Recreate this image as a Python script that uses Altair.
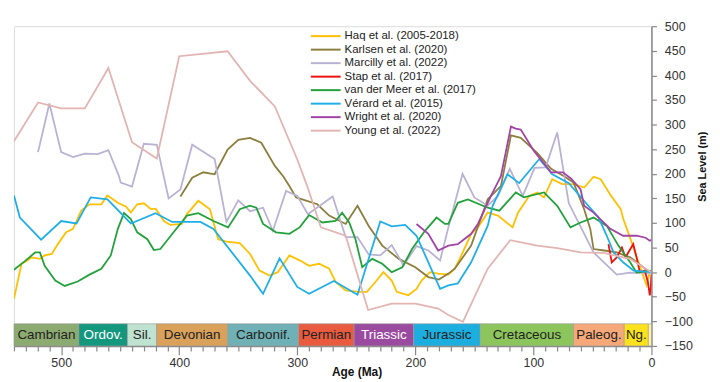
import altair as alt
import pandas as pd

# ---------------- data ----------------
series_names = ["Haq et al. (2005-2018)", "Karlsen et al. (2020)", "Marcilly et al. (2022)",
                "Stap et al. (2017)", "van der Meer et al. (2017)", "Vérard et al. (2015)",
                "Wright et al. (2020)", "Young et al. (2022)"]
series_colors = ["#FFC000", "#8C7E3C", "#B9B2D3", "#EE1111", "#22A13C", "#1FAFE8", "#A144A6", "#E2B4B2"]

haq_age = [540, 533.6, 531, 525, 518, 514, 508, 502.8, 495.8, 490, 483, 476, 466, 460.8, 452, 445, 441,
           435.6, 430, 424, 420, 413, 407.6, 397.7, 393.5, 383.8, 374, 367, 360, 348.7, 340, 332, 323.5,
           316.5, 306.7, 298, 290, 281.5, 273, 267.5, 259, 248, 241, 233.8, 227, 220, 215.7, 206, 199,
           194.7, 187.6, 180.7, 172, 166.6, 161, 152.7, 147, 138.7, 130, 117.6, 113, 103.6, 96.6, 91, 84,
           75.6, 65.8, 57, 49, 43, 35, 26, 23.8, 16.8, 11, 7, 4, 1.4, 0]
haq_sl = [-54, 17, 20, 30, 27, 34, 37, 57, 81, 88, 125, 138, 138, 156, 141, 133, 121,
          138, 140, 128, 129, 104, 96, 98, 118, 145, 128, 67, 62, 59, 37, 3, -7,
          0, 34, 24, 13, 17, 7, -20, -37, -40, -40, -20, 0, -17, -40, -47, -34,
          -17, 0, -3, -5, 7, 34, 78, 91, 121, 115, 91, 121, 155, 162, 152, 189,
          179, 179, 172, 194, 189, 158, 128, 108, 61, 20, -7, -27, 0, 0]

karlsen_age = [399, 389, 379.6, 370, 359, 350, 340, 330.5, 319, 312, 306.7, 301, 283, 273, 259, 249,
               239.5, 228, 214, 200, 189, 180, 172, 166.6, 152.7, 138.7, 127.5, 119, 110.7, 96.6, 85,
               74, 66, 57, 51.8, 49, 40, 29.4, 18, 1.4, 0]
karlsen_sl = [154, 192, 203, 199, 249, 269, 273, 263, 216, 195, 175, 152, 138, 115, 98, 135,
              94, 54, 27, 10, -10, -15, -3, 7, 54, 148, 175, 278, 273, 242, 210,
              195, 182, 128, 88, 47, 44, 40, 30, 0, 0]

marcilly_age = [519.6, 510, 500, 490, 480, 469, 460, 451, 449.6, 440, 430, 419, 409, 399, 389, 370, 360,
                350, 340, 329, 320.7, 309.5, 300, 291, 270, 259, 249, 239.5, 229.7, 220, 210, 199, 189,
                179, 172, 160, 150, 138.7, 130, 120, 109, 99, 89.6, 79.8, 70, 49, 29.4, 18, 0]
marcilly_sl = [244, 343, 244, 234, 241, 240, 248, 195, 182, 174, 261, 259, 150, 168, 259, 230, 102,
               146, 124, 131, 84, 165, 155, 118, 154, 71, 71, 36, 34, 55, 14, 53, 44,
               24, 91, 200, 152, 135, 155, 210, 155, 212, 213, 284, 140, 40, -5, -1, -2]

stap_age = [36.4, 33.6, 29.4, 25, 22, 19.6, 15.4, 12.6, 9.8, 5.6, 3, 1.4, 0.5, 0]
stap_sl = [57, 20, 30, 50, 30, 40, 57, 30, 0, 3, -20, -47, -30, -5]

meer_age = [540, 531, 522, 518, 514, 505, 497, 486, 476, 466, 458, 452, 446.8, 441, 435.6, 427, 421.5,
            416, 404.8, 393.5, 383.8, 371, 358.6, 348.7, 340, 334.7, 329, 318, 306.7, 298, 290, 278.7,
            267.5, 262, 256, 250.7, 245, 236.5, 228, 220, 211, 202.8, 191.8, 182, 175, 172, 164, 155.5,
            138.7, 128.8, 114.9, 108, 91, 79.8, 68.6, 60, 49, 37.8, 28, 18, 12.6, 0]
meer_sl = [5, 22, 40, 40, 13, -17, -28, -19, -5, 7, 34, 88, 120, 108, 81, 67, 45,
           47, 81, 115, 120, 104, 91, 128, 135, 131, 98, 81, 78, 91, 116, 101,
           104, 121, 101, 67, 10, 27, 17, 0, 10, 47, 84, 111, 98, 98, 141, 148,
           131, 125, 162, 152, 162, 135, 91, 101, 111, 94, 54, 20, -1, 3]

verard_age = [540, 535, 517, 500, 487, 475, 460.8, 441, 420, 406, 382, 371, 340, 329, 315, 300, 290,
              269, 249, 229.7, 220, 208.6, 199, 179, 172, 164, 152.7, 138.7, 134.5, 122, 112, 95, 84,
              70, 54.6, 45, 38, 32, 24, 15, 0]
verard_sl = [156, 111, 66, 104, 99, 152, 148, 99, 120, 102, 102, 88, -7, -44, 28, -30, -44,
             -18, -46, 103, 93, 96, 74, -34, -27, -23, 20, 94, 135, 199, 181, 230, 199,
             181, 138, 112, 75, 40, 20, 3, 0]

wright_age = [199, 189, 180.7, 172, 164, 152.7, 147, 135.9, 127.5, 119, 115, 110.7, 99.4, 85, 75, 68,
              60, 57, 49, 34.8, 24, 12.6, 5, 1.4, 0]
wright_sl = [98, 78, 44, 54, 57, 78, 98, 155, 195, 296, 292, 290, 246, 203, 203, 190,
             168, 135, 121, 88, 74, 74, 70, 64, 66]

young_age = [540, 519.6, 500, 480, 460, 440, 419, 400, 359, 340, 319, 300, 291.6, 280, 259, 240, 220,
             200, 180.7, 172, 159.7, 138.7, 119.6, 96.6, 79.8, 60, 40.6, 18, 0]
young_sl = [266, 345, 333, 333, 415, 264, 231, 439, 449, 389, 337, 229, 175, 91, 74, -77, -64,
            -64, -74, -87, -101, 7, 65, 54, 49, 40, 39, 27, 0]

period_names = ["Cambrian", "Ordov.", "Sil.", "Devonian", "Carbonif.", "Permian", "Triassic",
                "Jurassic", "Cretaceous", "Paleog.", "Ng.", ""]
period_start = [540, 485, 443.8, 419.2, 358.9, 298.9, 251.9, 201.4, 145, 66, 23, 2.6]
period_end = [485, 443.8, 419.2, 358.9, 298.9, 251.9, 201.4, 145, 66, 23, 2.6, 0]
period_fill = ["#8CAB70", "#13977D", "#BFE3D0", "#D9A15A", "#6FB1B4", "#E85B3E", "#9A4BA0",
               "#1DAEE0", "#8CC55B", "#F7A878", "#FBE21C", "#FFF3A0"]
period_text_color = ["#222222", "#FFFFFF", "#222222", "#222222", "#222222", "#222222", "#FFFFFF",
                     "#222222", "#222222", "#222222", "#222222", "#222222"]

x_ticks = list(range(0, 541, 10))
y_ticks = list(range(-150, 501, 50))

# ---------------- tables ----------------
rows = []
for name, ages, vals in zip(series_names,
                            [haq_age, karlsen_age, marcilly_age, stap_age, meer_age, verard_age, wright_age, young_age],
                            [haq_sl, karlsen_sl, marcilly_sl, stap_sl, meer_sl, verard_sl, wright_sl, young_sl]):
    for a, v in zip(ages, vals):
        rows.append({"series": name, "age": a, "sl": v})
lines_df = pd.DataFrame(rows)

periods_df = pd.DataFrame({
    "name": period_names, "start": period_start, "end": period_end,
    "fill": period_fill, "tcolor": period_text_color,
})
periods_df["mid"] = (periods_df["start"] + periods_df["end"]) / 2
periods_df["y0"] = -150
periods_df["y1"] = -105
periods_df["ym"] = -127.5

FONT = "Liberation Sans"
AXC = "#888888"

x_scale = alt.Scale(domain=[540, 0], nice=False, zero=False)
y_scale = alt.Scale(domain=[-150, 500], nice=False, zero=False)

x_axis = alt.Axis(
    values=x_ticks,
    labelExpr="datum.value % 100 === 0 ? datum.label : ''",
    tickSize={"condition": {"test": "datum.value % 100 === 0", "value": 9}, "value": 5},
    labelOverlap=False, labelFlush=False, labelPadding=2,
    labelFont=FONT, labelFontSize=12.5, labelColor="#333333",
    title="Age (Ma)", titleFont=FONT, titleFontSize=12, titleFontWeight="bold",
    titleColor="#111111", titleX=345, titleY=26, titleBaseline="middle", titleAlign="center",
    domainColor=AXC, domainWidth=1.5, tickColor=AXC, tickWidth=1.2, grid=False,
)
y_axis = alt.Axis(
    orient="right", values=y_ticks, tickSize=5, labelPadding=8,
    labelOverlap=False, labelFlush=False,
    labelFont=FONT, labelFontSize=12.5, labelColor="#333333",
    title="Sea Level (m)", titleFont=FONT, titleFontSize=11, titleFontWeight="bold",
    titleColor="#111111", titleAngle=270, titleX=51, titleY=141,
    titleAlign="center", titleBaseline="middle",
    domainColor=AXC, domainWidth=1.5, tickColor=AXC, tickWidth=1.2, grid=False,
)

bars = alt.Chart(periods_df).mark_rect(stroke="#9a9a9a", strokeWidth=0.6).encode(
    x=alt.X("start:Q", scale=x_scale, axis=x_axis),
    x2="end:Q",
    y=alt.Y("y0:Q", scale=y_scale, axis=y_axis),
    y2="y1:Q",
    fill=alt.Fill("fill:N", scale=None),
)

labels = alt.Chart(periods_df).mark_text(font=FONT, fontSize=13.5, baseline="middle", align="center").encode(
    x=alt.X("mid:Q", scale=x_scale, axis=x_axis),
    y=alt.Y("ym:Q", scale=y_scale, axis=y_axis),
    text="name:N",
    color=alt.Color("tcolor:N", scale=None),
)

lines = alt.Chart(lines_df).mark_line(strokeWidth=1.8, clip=True).encode(
    x=alt.X("age:Q", scale=x_scale, axis=x_axis),
    y=alt.Y("sl:Q", scale=y_scale, axis=y_axis),
    color=alt.Color(
        "series:N",
        scale=alt.Scale(domain=series_names, range=series_colors),
        sort=series_names,
        legend=alt.Legend(
            title=None, orient="none", legendX=318, legendY=4, padding=0,
            symbolType="M-5,0H1", symbolSize=100, symbolStrokeWidth=2,
            labelFont=FONT, labelFontSize=11.5, labelColor="#222222",
            labelOffset=3, rowPadding=1.6,
        ),
    ),
    detail="series:N",
)

chart = alt.layer(bars, lines, labels).properties(
    width=642, height=322,
    padding={"left": 5, "top": 11, "right": 5, "bottom": 5},
).configure_view(stroke=AXC, strokeWidth=1.5).configure_axis(
    labelOverlap=False, labelFlush=False
).configure(background="white")

chart.save("out.html", embed_options={"renderer": "svg", "actions": False})
